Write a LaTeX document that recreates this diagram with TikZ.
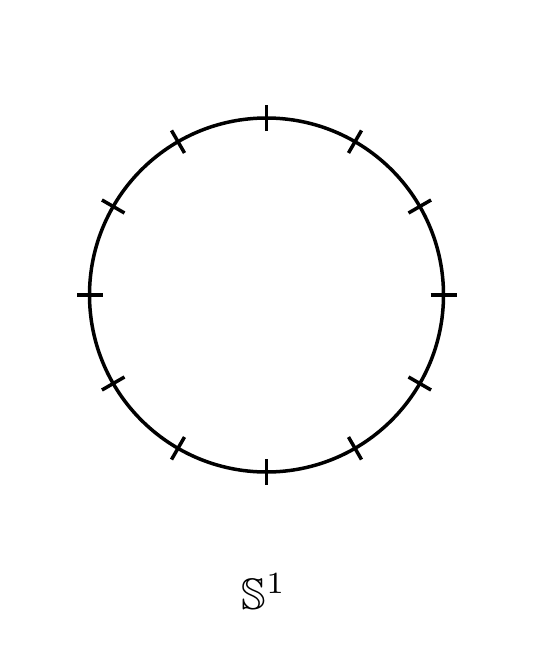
\documentclass[tikz,border=0pt]{standalone}
\usepackage{amssymb}
\usetikzlibrary{calc}
\begin{document}
\begin{tikzpicture}[x=1pt,y=-1pt,
  circ/.style={line width=3.5pt,draw=black},
  tickmark/.style={line width=3.5pt,draw=black}]
\useasboundingbox (0,0) rectangle (533,651);
\coordinate (c) at (266.5,295);
\draw[circ] (c) circle[radius=177];
\foreach \a in {0,30,...,330}{
  \draw[tickmark] ($(c)+(\a:164)$) -- ($(c)+(\a:190)$);
}
\node[scale=4.4,inner sep=0pt] (lab) at (264,592) {$\mathbb{S}^1$};
\end{tikzpicture}
\end{document}
